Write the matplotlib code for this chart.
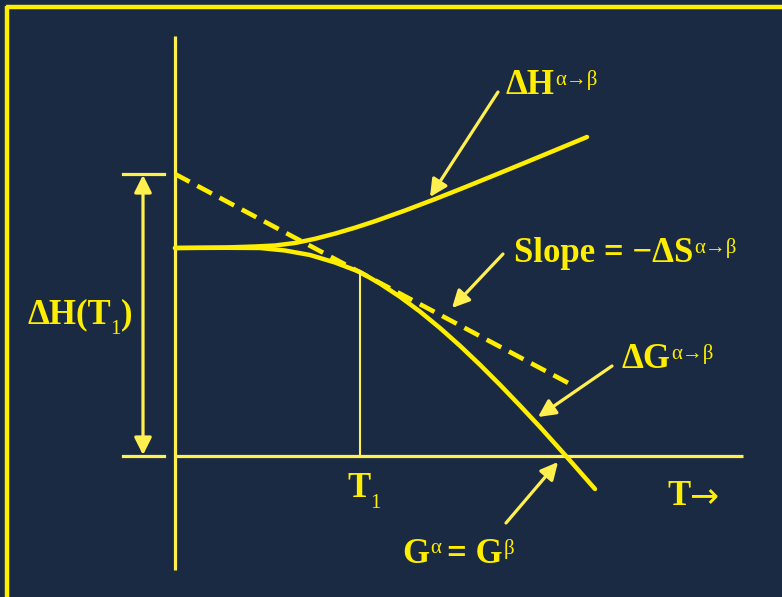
import matplotlib
matplotlib.use("Agg")
import matplotlib.pyplot as plt
from matplotlib.lines import Line2D

BG = "#1a2a43"
YEL = "#ffee00"
PALE = "#fff050"

# Curve data (T in arbitrary units from the vertical axis, G in arbitrary units above the T axis)
dH_T = [0.00, 0.50, 0.80, 1.00, 1.20, 1.40, 1.60, 1.80, 2.00, 2.30, 2.60, 2.90, 3.20, 3.50, 3.80, 4.12]
dH_G = [2.080, 2.085, 2.095, 2.105, 2.130, 2.172, 2.224, 2.283, 2.348, 2.455, 2.569, 2.688, 2.810, 2.933, 3.057, 3.190]

dG_T = [0.00, 0.50, 0.85, 1.10, 1.35, 1.60, 1.85, 2.05, 2.25, 2.45, 2.65, 2.85, 3.05, 3.25, 3.45, 3.65, 3.91, 4.20]
dG_G = [2.080, 2.082, 2.080, 2.055, 2.010, 1.935, 1.840, 1.724, 1.592, 1.444, 1.280, 1.102, 0.912, 0.712, 0.504, 0.290, 0.000, -0.330]

tan_T = [0.00, 3.97]
tan_G = [2.82, 0.71]

T1 = 1.85
T1_G = 1.84
dH_T1 = 2.82

fig = plt.figure(figsize=(7.82, 5.97), dpi=100, facecolor=BG)
ax = fig.add_axes([0, 0, 1, 1])
ax.set_facecolor(BG)
ax.set_xlim(-1.75, 6.07)
ax.set_ylim(-1.41, 4.56)
ax.axis("off")

# frame
fig.add_artist(Line2D([5.5/782, 1.0], [1 - 7/597, 1 - 7/597], transform=fig.transFigure,
                      color=YEL, lw=3.2, solid_capstyle="butt"))
fig.add_artist(Line2D([7/782, 7/782], [0, 1 - 5.5/597], transform=fig.transFigure,
                      color=YEL, lw=3.2, solid_capstyle="butt"))

# axes lines
ax.plot([0, 0], [-1.14, 4.20], color=PALE, lw=2.3, solid_capstyle="butt")
ax.plot([0, 5.68], [0, 0], color=PALE, lw=2.3, solid_capstyle="butt")

# curves
ax.plot(dH_T, dH_G, color=YEL, lw=3.2, solid_capstyle="round", solid_joinstyle="round")
ax.plot(dG_T, dG_G, color=YEL, lw=3.2, solid_capstyle="round", solid_joinstyle="round")
ax.plot(tan_T, tan_G, color=YEL, lw=3.3, dashes=(3.6, 1.9), dash_capstyle="butt")

# T1 vertical
ax.plot([T1, T1], [0, T1_G], color=PALE, lw=1.5)

# dimension marker
ax.plot([-0.52, -0.11], [dH_T1, dH_T1], color=PALE, lw=2.3)
ax.plot([-0.52, -0.11], [0, 0], color=PALE, lw=2.3)
ax.annotate("", xy=(-0.32, dH_T1 - 0.01), xytext=(-0.32, 0.01),
            arrowprops=dict(arrowstyle="<|-|>", color=PALE, lw=2.3, mutation_scale=26, shrinkA=0, shrinkB=0))

ARW = dict(arrowstyle="-|>", color=PALE, lw=2.3, mutation_scale=26, shrinkA=0, shrinkB=0)
ax.annotate("", xy=(2.55, 2.59), xytext=(3.23, 3.64), arrowprops=ARW)
ax.annotate("", xy=(2.77, 1.48), xytext=(3.28, 2.02), arrowprops=ARW)
ax.annotate("", xy=(3.63, 0.39), xytext=(4.37, 0.90), arrowprops=ARW)
ax.annotate("", xy=(3.83, -0.06), xytext=(3.31, -0.67), arrowprops=ARW)

SERIF = ["Liberation Serif", "DejaVu Sans"]
BIG = 25
SMALL = 15


def main(x, y, s):
    return ax.text(x, y, s, color=YEL, fontsize=BIG, fontweight="bold", family=SERIF,
                   ha="left", va="baseline")


def sup(prev, s, dx=0.5, dy=-1.0):
    return ax.annotate(s, xy=(1, 1), xycoords=prev, xytext=(dx, dy), textcoords="offset points",
                       color=YEL, fontsize=SMALL, family=SERIF, ha="left", va="top")


def sub(prev, s, dx=0.0, dy=-6.0):
    return ax.annotate(s, xy=(1, 0), xycoords=prev, xytext=(dx, dy), textcoords="offset points",
                       color=YEL, fontsize=SMALL, family=SERIF, ha="left", va="bottom")


t = main(3.31, 3.62, "ΔH")
sup(t, "α→β")

t = main(3.39, 1.94, "Slope = −ΔS")
sup(t, "α→β")

t = main(4.47, 0.88, "ΔG")
sup(t, "α→β")

t = main(1.72, -0.41, "T")
sub(t, "1")

t = main(4.92, -0.49, "T")
ax.annotate("→", xy=(1, 0), xycoords=t, xytext=(-0.5, 0), textcoords="offset points",
            color=YEL, fontsize=BIG, family=["DejaVu Sans"], ha="left", va="bottom")

t = main(2.27, -1.07, "G")
ta = sup(t, "α")
t3 = ax.annotate("= G", xy=(1, 0), xycoords=(ta, t), xytext=(4.5, 0), textcoords="offset points",
                 color=YEL, fontsize=BIG, fontweight="bold", family=SERIF, ha="left", va="bottom")
sup(t3, "β")

t = main(-1.48, 1.33, "ΔH(T")
ts = sub(t, "1")
ax.annotate(")", xy=(1, 0), xycoords=(ts, t), xytext=(0, 0), textcoords="offset points",
            color=YEL, fontsize=BIG, fontweight="bold", family=SERIF, ha="left", va="bottom")

fig.savefig("out.png", dpi=100, facecolor=BG)
